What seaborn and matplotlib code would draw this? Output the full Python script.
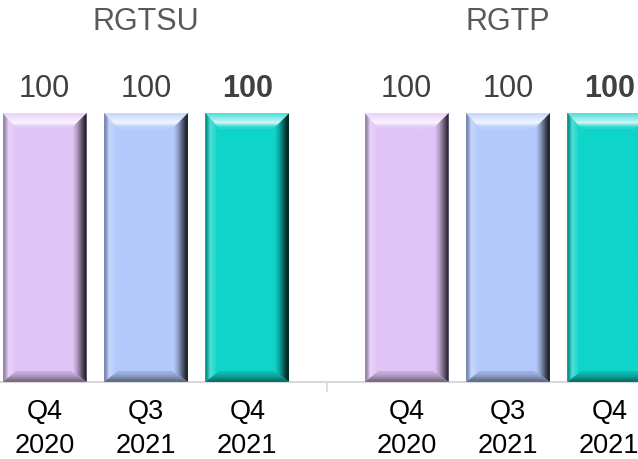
import numpy as np
import pandas as pd
import matplotlib
matplotlib.use("Agg")
import matplotlib.pyplot as plt
import seaborn as sns
from matplotlib.patches import Polygon
from matplotlib.colors import to_rgb

# ---------------- data ----------------
groups = ["RGTSU", "RGTP"]
periods = ["Q4\n2020", "Q3\n2021", "Q4\n2021"]
values_rgtsu = [100, 100, 100]
values_rgtp = [100, 100, 100]
colors = ["#E0C3F7", "#B3C9FC", "#0FD4C9"]

rows = []
for g, vals in zip(groups, [values_rgtsu, values_rgtp]):
    for p, v in zip(periods, vals):
        rows.append({"group": g, "period": p, "value": v})
df = pd.DataFrame(rows)

# ---------------- figure ----------------
sns.set_style("white")
plt.rcParams["font.family"] = ["Liberation Sans", "DejaVu Sans"]

W, H = 638, 460
fig = plt.figure(figsize=(W / 100, H / 100), dpi=100)
ax_bottom_px = 383
ax = fig.add_axes([0, 1 - ax_bottom_px / H, 1, ax_bottom_px / H])

sns.barplot(data=df, x="group", y="value", hue="period", order=groups,
            hue_order=periods, palette=colors, width=0.84, gap=0.17,
            saturation=1, legend=False, ax=ax, edgecolor="none", linewidth=0)

px_per_unit = (383 - 114) / 100.0
ax.set_ylim(0, ax_bottom_px / px_per_unit)
ax.set_xlim(-146 / 362, (W - 146) / 362)

for s in ["top", "left", "right"]:
    ax.spines[s].set_visible(False)
ax.spines["bottom"].set_color("#D9D9D9")
ax.spines["bottom"].set_linewidth(1.5)
ax.set_yticks([])
ax.set_xlabel("")
ax.set_ylabel("")

# bar centres -> tick labels
bars = []
for ci, cont in enumerate(ax.containers):
    for bi, b in enumerate(cont):
        bars.append((bi, ci, b))
bars.sort(key=lambda t: (t[0], t[1]))
centers = [b.get_x() + b.get_width() / 2 for _, _, b in bars]
labels = [periods[ci] for _, ci, _ in bars]
ax.set_xticks(centers)
ax.set_xticklabels(labels, fontsize=19.5, color="black", linespacing=1.4)
ax.tick_params(axis="x", which="major", bottom=True, length=0, pad=11.5)
ax.set_xticks([0.5], minor=True)
ax.tick_params(axis="x", which="minor", bottom=True, length=7.5, width=1.2,
               color="#D9D9D9")

# value labels
for ci, cont in enumerate(ax.containers):
    txts = ax.bar_label(cont, fmt="%d", padding=7, fontsize=22, color="#404040")
    if ci == len(ax.containers) - 1:
        for t in txts:
            t.set_fontweight("bold")

# group titles
for i, g in enumerate(groups):
    ax.text(i, 1 - 22.5 / ax_bottom_px, g, transform=ax.get_xaxis_transform(),
            ha="center", va="center", fontsize=22, color="#595959")

# ---------------- bevel decoration ----------------
inv = ax.transData.inverted()


def mix(c, other, t):
    c = np.array(to_rgb(c)); o = np.array(to_rgb(other))
    return c * (1 - t) + o * t


def to_data(pts):
    return inv.transform(np.array(pts))


def grad(poly_px, bbox_px, cols, vertical):
    poly = Polygon(to_data(poly_px), closed=True, transform=ax.transData,
                   facecolor="none", edgecolor="none")
    ax.add_patch(poly)
    (xa, ya), (xb, yb) = to_data([bbox_px[0], bbox_px[1]])
    arr = np.array([np.array(to_rgb(cc)) for cc in cols])
    n = len(cols)
    if vertical:
        img = arr.reshape(n, 1, 3)
    else:
        img = arr.reshape(1, n, 3)
    im = ax.imshow(img, extent=[xa, xb, ya, yb], origin="lower", aspect="auto",
                   interpolation="bilinear", zorder=3)
    im.set_clip_path(poly)


for bi, ci, b in bars:
    c = colors[ci]
    (x0, y0), (x1, y1) = ax.transData.transform(
        [(b.get_x(), 0), (b.get_x() + b.get_width(), b.get_height())])
    if x0 > W:
        continue
    bt, bl, br, bb = 16, 14, 16, 11
    # top trapezoid (lighter, highlight)
    grad([(x0, y1), (x1, y1), (x1 - br, y1 - bt), (x0 + bl, y1 - bt)],
         [(x0, y1 - bt), (x1, y1)],
         [mix(c, "white", 0.1), mix(c, "white", 0.8), mix(c, "white", 0.55),
          mix(c, "white", 0.3)], True)
    # left strip
    grad([(x0, y1), (x0 + bl, y1 - bt), (x0 + bl, y0 + bb), (x0, y0)],
         [(x0, y0), (x0 + bl, y1)],
         [mix(c, "black", 0.3), mix(c, "white", 0.25), mix(c, "white", 0.15), to_rgb(c)],
         False)
    # right strip (dark)
    grad([(x1, y1), (x1 - br, y1 - bt), (x1 - br, y0 + bb), (x1, y0)],
         [(x1 - br, y0), (x1, y1)],
         [to_rgb(c), mix(c, "black", 0.2), mix(c, "black", 0.5), mix(c, "black", 0.8)],
         False)
    # bottom trapezoid (darker)
    grad([(x0, y0), (x1, y0), (x1 - br, y0 + bb), (x0 + bl, y0 + bb)],
         [(x0, y0), (x1, y0 + bb)],
         [mix(c, "black", 0.45), mix(c, "black", 0.25), mix(c, "black", 0.12)],
         True)

ax.set_ylim(0, ax_bottom_px / px_per_unit)
ax.set_xlim(-146 / 362, (W - 146) / 362)

fig.savefig("out.png", dpi=100)
